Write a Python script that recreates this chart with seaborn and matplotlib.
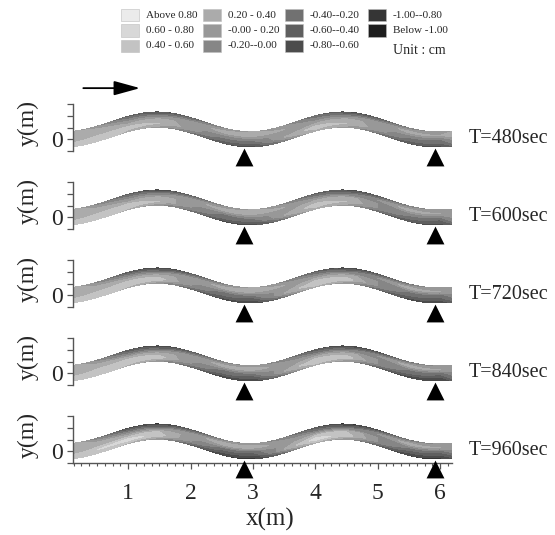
import numpy as np
import matplotlib
matplotlib.use("Agg")
import matplotlib.pyplot as plt
import seaborn as sns
from matplotlib.transforms import Transform
from matplotlib.path import Path
from matplotlib.patches import Rectangle
from matplotlib.ticker import MultipleLocator, FixedLocator

# ---------------- data ----------------
times = ["T=480sec", "T=600sec", "T=720sec", "T=840sec", "T=960sec"]

# stations along the flume (m) and lateral positions (top bank -> bottom bank)
stations = [0.11, 0.5, 1.0, 1.5, 2.0, 2.5, 3.0, 3.5, 4.0, 4.5, 5.0, 5.5, 6.0, 6.19]
lateral = [1.0, 0.5, 0.0, -0.5, -1.0]

# bed elevation change (cm) read from the shading, rows = lateral positions
bed_480 = [
    [0.3, 0.0, -0.5, -0.7, -0.5, -0.1, 0.2, 0.0, -0.4, -0.7, -0.6, -0.2, 0.1, 0.2],
    [0.4, 0.3, -0.1, -0.2, 0.0, 0.3, 0.3, 0.2, -0.1, -0.2, 0.0, 0.3, 0.2, 0.3],
    [0.3, 0.3, 0.2, 0.3, 0.1, -0.1, -0.1, 0.1, 0.2, 0.3, 0.1, -0.1, -0.2, 0.0],
    [0.4, 0.5, 0.5, 0.4, 0.1, -0.3, -0.4, 0.2, 0.5, 0.4, 0.1, -0.3, -0.4, -0.2],
    [0.5, 0.6, 0.3, 0.1, -0.3, -0.6, -0.7, -0.2, 0.3, 0.1, -0.3, -0.6, -0.7, -0.5],
]
bed_600 = [
    [0.3, -0.1, -0.5, -0.8, -0.5, -0.1, 0.2, -0.1, -0.5, -0.7, -0.6, -0.2, 0.1, 0.1],
    [0.4, 0.2, -0.1, -0.2, 0.1, 0.3, 0.3, 0.2, -0.1, -0.3, 0.0, 0.3, 0.2, 0.2],
    [0.3, 0.3, 0.2, 0.3, 0.1, -0.2, -0.1, 0.1, 0.3, 0.3, 0.0, -0.1, -0.2, 0.0],
    [0.4, 0.5, 0.6, 0.4, 0.0, -0.3, -0.4, 0.2, 0.5, 0.4, 0.0, -0.3, -0.5, -0.2],
    [0.5, 0.6, 0.3, 0.0, -0.3, -0.7, -0.7, -0.3, 0.3, 0.1, -0.4, -0.6, -0.7, -0.5],
]
bed_720 = [
    [0.3, -0.1, -0.6, -0.8, -0.6, -0.2, 0.2, -0.1, -0.5, -0.8, -0.6, -0.3, 0.1, 0.1],
    [0.4, 0.2, -0.1, -0.3, 0.0, 0.3, 0.3, 0.2, -0.1, -0.3, 0.0, 0.3, 0.2, 0.2],
    [0.3, 0.3, 0.3, 0.3, 0.1, -0.2, -0.2, 0.1, 0.3, 0.3, 0.0, -0.2, -0.3, -0.1],
    [0.4, 0.5, 0.6, 0.5, 0.0, -0.4, -0.5, 0.2, 0.6, 0.5, 0.0, -0.4, -0.5, -0.3],
    [0.5, 0.6, 0.3, 0.0, -0.4, -0.7, -0.8, -0.3, 0.3, 0.0, -0.4, -0.7, -0.8, -0.6],
]
bed_840 = [
    [0.3, -0.1, -0.6, -0.8, -0.6, -0.2, 0.1, -0.2, -0.6, -0.8, -0.7, -0.3, 0.0, 0.1],
    [0.4, 0.2, -0.2, -0.3, 0.0, 0.3, 0.3, 0.1, -0.2, -0.3, 0.0, 0.3, 0.2, 0.2],
    [0.3, 0.3, 0.3, 0.3, 0.1, -0.2, -0.2, 0.1, 0.3, 0.3, 0.0, -0.2, -0.3, -0.1],
    [0.4, 0.6, 0.6, 0.5, 0.0, -0.4, -0.5, 0.2, 0.6, 0.5, 0.0, -0.4, -0.6, -0.3],
    [0.5, 0.6, 0.3, 0.0, -0.4, -0.8, -0.8, -0.3, 0.3, 0.0, -0.5, -0.8, -0.8, -0.6],
]
bed_960 = [
    [0.3, -0.2, -0.7, -0.9, -0.6, -0.2, 0.1, -0.2, -0.6, -0.9, -0.7, -0.3, 0.0, 0.1],
    [0.4, 0.2, -0.2, -0.3, 0.0, 0.4, 0.3, 0.1, -0.2, -0.4, 0.0, 0.3, 0.2, 0.2],
    [0.3, 0.3, 0.3, 0.4, 0.1, -0.2, -0.3, 0.1, 0.4, 0.4, 0.0, -0.2, -0.3, -0.1],
    [0.4, 0.6, 0.7, 0.5, 0.0, -0.5, -0.6, 0.2, 0.7, 0.5, 0.0, -0.5, -0.6, -0.4],
    [0.5, 0.6, 0.3, 0.0, -0.5, -0.8, -0.9, -0.4, 0.3, 0.0, -0.5, -0.8, -0.9, -0.7],
]
beds = [bed_480, bed_600, bed_720, bed_840, bed_960]

# measuring points (triangles)
gauge_x = [2.85, 5.92]

# legend classes (light -> dark) and colours
class_labels = ["Above 0.80", "0.60 - 0.80", "0.40 - 0.60",
                "0.20 - 0.40", "-0.00 - 0.20", "-0.20--0.00",
                "-0.40--0.20", "-0.60--0.40", "-0.80--0.60",
                "-1.00--0.80", "Below -1.00"]
class_colors = ["#ebebeb", "#d8d8d8", "#c3c3c3",
                "#ababab", "#989898", "#868686",
                "#717171", "#5f5f5f", "#4c4c4c",
                "#353535", "#1d1d1d"]
levels = [-5.0, -1.0, -0.8, -0.6, -0.4, -0.2, 0.0, 0.2, 0.4, 0.6, 0.8, 5.0]

# channel planform
AMP = 0.167      # half of crest-trough height of centreline (m)
WAVE = 2.97      # meander wavelength (m)
TROUGH0 = -0.02  # position of first trough (m)
HALFW = 0.13     # half width of channel (m)


def centerline(s):
    s = np.asarray(s, float)
    sc = np.minimum(s, TROUGH0 + 2 * WAVE)
    return AMP * (1 - np.cos(2 * np.pi * (sc - TROUGH0) / WAVE))


class ChannelTransform(Transform):
    """(station, lateral) -> (x, y)"""
    input_dims = 2
    output_dims = 2
    is_separable = False
    has_inverse = False

    def transform_non_affine(self, values):
        v = np.asarray(values, float).reshape(-1, 2)
        s, n = v[:, 0], v[:, 1]
        return np.column_stack([s, centerline(s) + n * HALFW])

    def transform_path_non_affine(self, path):
        steps = 30
        verts = path.vertices
        if len(verts) == 0:
            return path
        codes = path.codes
        if codes is None:
            codes = np.full(len(verts), Path.LINETO)
            codes[0] = Path.MOVETO
        out_v, out_c = [], []
        start = prev = None
        for pt, code in zip(verts, codes):
            if code == Path.MOVETO:
                out_v.append(pt); out_c.append(Path.MOVETO)
                start = prev = pt
            elif code == Path.CLOSEPOLY:
                seg = np.linspace(prev, start, steps + 1)[1:-1]
                out_v.extend(seg); out_c.extend([Path.LINETO] * len(seg))
                out_v.append(start); out_c.append(Path.CLOSEPOLY)
                prev = start
            else:
                seg = np.linspace(prev, pt, steps + 1)[1:]
                out_v.extend(seg); out_c.extend([Path.LINETO] * len(seg))
                prev = pt
        return Path(self.transform(np.array(out_v)), out_c)


# ---------------- figure ----------------
sns.set_theme(style="white")
plt.rcParams["font.family"] = ["Liberation Serif", "DejaVu Serif"]

W, H = 555, 535
fig = plt.figure(figsize=(W / 100, H / 100), dpi=100)

S, N = np.meshgrid(stations, lateral)
spine_col = "#555555"
x0, x1 = 0.11, 6.19
left_px, right_px = 72.7, 452.0

for i, (label, bed) in enumerate(zip(times, beds)):
    bot_px = 151 + 78 * i
    ax = fig.add_axes([left_px / W, 1 - bot_px / H, (right_px - left_px) / W, 47 / H])
    ax.set_facecolor("none")
    ax.contourf(S, N, np.array(bed), levels=levels, colors=class_colors[::-1],
                transform=ChannelTransform() + ax.transData)
    sns.scatterplot(x=gauge_x, y=[-0.31] * len(gauge_x), marker="^", s=165,
                    color="black", edgecolor="black", linewidth=0,
                    ax=ax, clip_on=False, legend=False, zorder=5)
    ax.set_xlim(x0, x1)
    ax.set_ylim(-0.2, 0.6)
    for sp in ["top", "right"]:
        ax.spines[sp].set_visible(False)
    ax.spines["left"].set_color(spine_col)
    ax.spines["left"].set_linewidth(1.0)
    ax.spines["left"].set_bounds(-0.2, 0.6)
    ax.yaxis.set_major_locator(FixedLocator([-0.2, 0, 0.2, 0.4, 0.6]))
    ax.set_yticklabels(["", "0", "", "", ""])
    ax.tick_params(axis="y", direction="out", length=4, width=0.9, color=spine_col,
                   labelsize=17, pad=3, left=True)
    ax.text(-0.118, 0.6, "y(m)", transform=ax.transAxes, rotation=90,
            ha="center", va="center", fontsize=17)
    ax.text(6.45, 0.02, label, ha="left", va="center", fontsize=14.5,
            clip_on=False)
    if i < 4:
        ax.spines["bottom"].set_visible(False)
        ax.set_xticks([])
    else:
        ax.spines["bottom"].set_color(spine_col)
        ax.spines["bottom"].set_linewidth(1.0)
        ax.xaxis.set_major_locator(FixedLocator([1, 2, 3, 4, 5, 6]))
        ax.xaxis.set_minor_locator(MultipleLocator(0.125))
        ax.tick_params(axis="x", which="major", direction="out", length=4.5,
                       width=0.9, color=spine_col, labelsize=17, pad=10, bottom=True)
        ax.tick_params(axis="x", which="minor", direction="out", length=2.3,
                       width=0.8, color=spine_col, bottom=True)
        ax.text(0.52, -1.2, "x(m)", transform=ax.transAxes, ha="center",
                va="center", fontsize=18)
    if i == 0:
        ax.annotate("", xy=(1.19, 0.87), xytext=(0.28, 0.87),
                    arrowprops=dict(arrowstyle="-|>,head_length=0.8,head_width=0.22",
                                    color="black", lw=1.3, mutation_scale=20,
                                    shrinkA=0, shrinkB=0),
                    annotation_clip=False)

# legend (drawn as a table of swatches)
col_x = [121, 203, 285, 368]
row_y = [15, 30.5, 46]
for k, (lab, colr) in enumerate(zip(class_labels, class_colors)):
    c, r = k // 3, k % 3
    fig.patches.append(Rectangle((col_x[c] / W, 1 - (row_y[r] + 6) / H), 18 / W, 12 / H,
                                 transform=fig.transFigure, facecolor=colr,
                                 edgecolor="#bdbdbd", linewidth=0.4))
    fig.text((col_x[c] + 25) / W, 1 - row_y[r] / H, lab, ha="left", va="center",
             fontsize=8)
fig.text(393 / W, 1 - 51 / H, "Unit : cm", ha="left", va="center", fontsize=10)

fig.savefig("out.png", dpi=100)
